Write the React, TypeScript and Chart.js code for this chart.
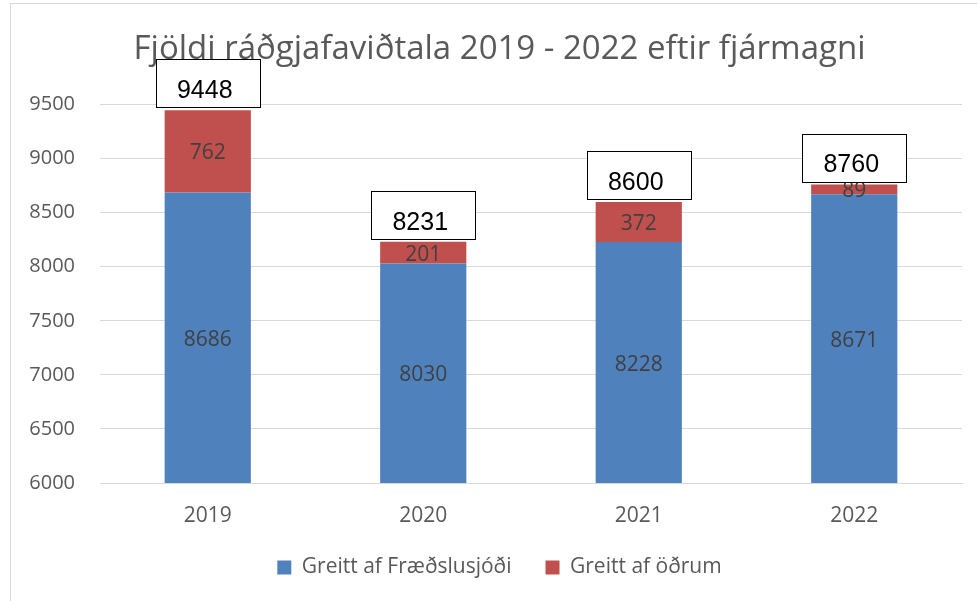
import React, { useEffect, useRef } from "react";
import { Chart, registerables } from "chart.js";

Chart.register(...registerables);

const titleText = "Fjöldi ráðgjafaviðtala 2019 - 2022 eftir fjármagni";
const categories = ["2019", "2020", "2021", "2022"];
const seriesNames = ["Greitt af Fræðslusjóði", "Greitt af öðrum"];
const fraedslusjodur = [8686, 8030, 8228, 8671];
const odrum = [762, 201, 372, 89];
const totals = [9448, 8231, 8600, 8760];
const yMin = 6000;
const yMax = 9500;
const yStep = 500;

const BLUE = "#4F81BD";
const RED = "#C0504D";
const GREY_TEXT = "#595959";
const GRID = "#D9D9D9";
const FONT = "'Open Sans', 'Noto Sans', sans-serif";

const labelsPlugin = {
  id: "valueLabels",
  afterDatasetsDraw(chart: any) {
    const ctx = chart.ctx;
    const area = chart.chartArea;
    ctx.save();
    ctx.textAlign = "center";
    ctx.textBaseline = "middle";
    ctx.font = `21px ${FONT}`;
    ctx.fillStyle = "#404040";
    chart.data.datasets.forEach((ds: any, di: number) => {
      const meta = chart.getDatasetMeta(di);
      meta.data.forEach((bar: any, i: number) => {
        const top = Math.max(Math.min(bar.y, bar.base), area.top);
        const bottom = Math.min(Math.max(bar.y, bar.base), area.bottom);
        ctx.fillText(String(ds.data[i]), bar.x, (top + bottom) / 2 + 2);
      });
    });
    const lastMeta = chart.getDatasetMeta(chart.data.datasets.length - 1);
    lastMeta.data.forEach((bar: any, i: number) => {
      const bw = 104;
      const bh = 48;
      const bottom = bar.y - 3;
      const left = Math.round(bar.x - bw / 2) + 0.5;
      const topY = Math.round(bottom - bh) + 0.5;
      ctx.fillStyle = "#FFFFFF";
      ctx.fillRect(left, topY, bw, bh);
      ctx.strokeStyle = "#000000";
      ctx.lineWidth = 1;
      ctx.strokeRect(left, topY, bw, bh);
      ctx.fillStyle = "#000000";
      ctx.font = `25px 'Liberation Sans', Arial, sans-serif`;
      ctx.fillText(String(totals[i]), bar.x - 3, bottom - 16);
    });
    ctx.restore();
  },
};

export default function App() {
  const canvasRef = useRef<HTMLCanvasElement | null>(null);

  useEffect(() => {
    if (!canvasRef.current) return;
    const chart = new Chart(canvasRef.current, {
      type: "bar",
      data: {
        labels: categories,
        datasets: [
          {
            label: seriesNames[0],
            data: fraedslusjodur,
            backgroundColor: BLUE,
            categoryPercentage: 1,
            barPercentage: 0.4,
            yAxisID: "y",
          },
          {
            label: seriesNames[1],
            data: odrum,
            backgroundColor: RED,
            categoryPercentage: 1,
            barPercentage: 0.4,
            yAxisID: "y",
          },
        ],
      },
      options: {
        responsive: false,
        animation: false,
        layout: { padding: { top: 12, left: 22, right: 0, bottom: 13 } },
        plugins: {
          title: {
            display: true,
            text: titleText,
            color: GREY_TEXT,
            font: { family: FONT, size: 33, weight: "normal" },
            padding: { top: 18, bottom: 35 },
          },
          legend: {
            display: true,
            position: "bottom",
            labels: {
              color: GREY_TEXT,
              font: { family: FONT, size: 21 },
              boxWidth: 14,
              boxHeight: 14,
              padding: 34,
            },
          },
          tooltip: { enabled: false },
        },
        scales: {
          x: {
            stacked: true,
            grid: { display: false, drawTicks: false },
            border: { display: true, color: GRID, width: 1 },
            ticks: {
              color: GREY_TEXT,
              font: { family: FONT, size: 21 },
              padding: 20,
            },
            afterFit(scale: any) {
              scale.height = 40;
            },
          },
          y: {
            stacked: true,
            min: yMin,
            max: yMax,
            grid: { color: GRID, drawTicks: false },
            border: { display: false },
            ticks: {
              stepSize: yStep,
              color: GREY_TEXT,
              font: { family: FONT, size: 20 },
              padding: 25,
              callback: (v: any) => String(v),
            },
            afterFit(scale: any) {
              scale.width = 78;
            },
          },
          yRightSpace: {
            type: "linear",
            position: "right",
            display: true,
            grid: { display: false, drawTicks: false },
            border: { display: false },
            ticks: { display: false },
            afterFit(scale: any) {
              scale.width = 15;
            },
          },
        },
      },
      plugins: [labelsPlugin],
    });
    return () => chart.destroy();
  }, []);

  return (
    <div style={{ position: "fixed", left: 0, top: 0, width: 977, height: 601, background: "#FFFFFF", overflow: "hidden" }}>
      <div
        style={{
          position: "absolute",
          left: 10,
          top: 3,
          width: 1000,
          height: 700,
          border: "1px solid #D9D9D9",
          boxSizing: "border-box",
        }}
      />
      <canvas ref={canvasRef} width={977} height={601} style={{ position: "absolute", left: 0, top: 0, width: 977, height: 601 }} />
    </div>
  );
}
